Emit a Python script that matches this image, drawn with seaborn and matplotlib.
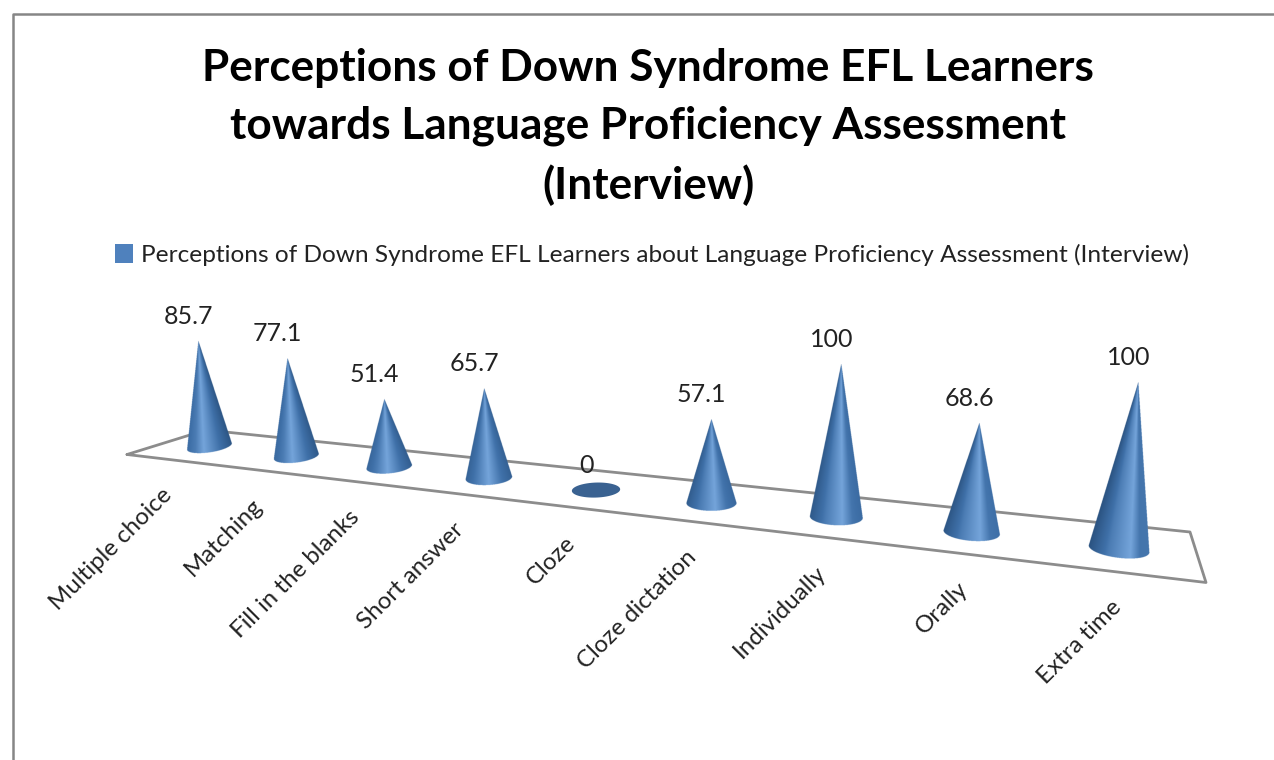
import numpy as np
import pandas as pd
import matplotlib
matplotlib.use("Agg")
import matplotlib.pyplot as plt
from matplotlib.patches import Patch
import seaborn as sns

# --- DATA ---
categories = ["Multiple choice", "Matching", "Fill in the blanks", "Short answer", "Cloze",
              "Cloze dictation", "Individually", "Orally", "Extra time"]
values = [85.7, 77.1, 51.4, 65.7, 0, 57.1, 100, 68.6, 100]
value_labels = ["85.7", "77.1", "51.4", "65.7", "0", "57.1", "100", "68.6", "100"]
title_text = "Perceptions of Down Syndrome EFL Learners\ntowards Language Proficiency Assessment\n(Interview)"
legend_text = "Perceptions of Down Syndrome EFL Learners about Language Proficiency Assessment (Interview)"

FONT = "Lato"
LINE_GREY = "#8c8c8c"
WIDTH, HEIGHT = 1274, 760

sns.set_theme(style="white")
plt.rcParams["font.family"] = [FONT, "DejaVu Sans"]

# dark -> mid -> light blue used across the cone surface
cone_cmap = sns.blend_palette(["#2a5280", "#3f70a8", "#74a4da"], as_cmap=True)


# --- PERSPECTIVE ---
# the old "3D" chart is a projective view: category index -> floor position + depth scale
def depth_scale(i):
    return 1 / (1 - 0.03263 * i)


def base_x(i):
    return (209.5 + 77.18 * i) * depth_scale(i)


def base_y(i):
    return 446.5 + 0.1127 * (base_x(i) - 209.5)


def draw_cone(ax, i, value):
    s = depth_scale(i)
    cx, cy = base_x(i), base_y(i)
    half_w = (42 + 3 * ((i - 4) / 4) ** 2) * s / 2
    half_h = 6 + 3 * i / 8
    tilt = 0.00028 * (cx - 711)

    if value == 0:
        t = np.linspace(0, 2 * np.pi, 80)
        ex = cx + half_w * np.cos(t)
        ey = cy + tilt * half_w * np.cos(t) + half_h * np.sin(t)
        ax.fill(ex, ey, color="#3a6291", lw=0, zorder=3)
        return cx, cy

    h = 1.235 * s * value
    ax_x = cx + 2.1e-4 * s * (cx - 711) * h
    ax_y = cy - h

    # supersampled image of the cone, shading follows the fan lines from the apex
    x0, x1 = int(cx - half_w - 3), int(cx + half_w + 3)
    if ax_x < x0:
        x0 = int(ax_x - 3)
    if ax_x > x1:
        x1 = int(ax_x + 3)
    y0, y1 = int(ax_y - 2), int(cy + half_h + abs(tilt) * half_w + 3)
    xs = np.linspace(x0, x1, (x1 - x0) * 4)
    ys = np.linspace(y0, y1, (y1 - y0) * 4)
    gx, gy = np.meshgrid(xs, ys)

    lx, ly = cx - half_w, cy - tilt * half_w
    rx, ry = cx + half_w, cy + tilt * half_w
    dy = np.maximum(gy - ax_y, 1e-6)
    slope = (gx - ax_x) / dy
    sl = (lx - ax_x) / (ly - ax_y)
    sr = (rx - ax_x) / (ry - ax_y)
    u = (slope - sl) / (sr - sl)

    inner = np.clip((gx - cx) / half_w, -1, 1)
    arc = cy + tilt * (gx - cx) + half_h * np.sqrt(1 - inner ** 2)
    mask = (u >= 0) & (u <= 1) & (gy > ax_y) & (gy <= arc)

    # highlight and edges drift with the position along the floor
    f = i / 8
    peak = 0.36 + 0.34 * f
    left_edge = 0.45 - 0.45 * f
    right_edge = 0.05 + 0.5 * f
    shade = np.interp(u, [0, peak * 0.5, peak, (1 + peak) / 2, 1],
                      [left_edge, 0.62, 1.0, 0.55, right_edge])
    rgba = cone_cmap(shade)
    rgba[..., 3] = mask.astype(float)
    ax.imshow(rgba, extent=(x0, x1, y1, y0), origin="upper", aspect="auto",
              interpolation="antialiased", interpolation_stage="rgba", zorder=3)
    return ax_x, ax_y


# --- FIGURE ---
df = pd.DataFrame({"category": categories, "value": values, "label": value_labels})

fig = plt.figure(figsize=(WIDTH / 100, HEIGHT / 100), dpi=100, facecolor="white")
ax = fig.add_axes([0, 0, 1, 1])

# chart frame (cropped on the right and at the bottom of the screenshot)
frame = pd.DataFrame({"x": [12.5, 12.5, 1274], "y": [760, 14, 14]})
sns.lineplot(data=frame, x="x", y="y", sort=False, estimator=None, color="#868686", lw=1.8, ax=ax)

# floor
floor = pd.DataFrame({"x": [127, 206, 1190, 1206, 127], "y": [454.5, 430, 532, 582.5, 454.5]})
sns.lineplot(data=floor, x="x", y="y", sort=False, estimator=None, color=LINE_GREY, lw=2, ax=ax, zorder=1)

for i, row in df.iterrows():
    tip_x, tip_y = draw_cone(ax, i, row["value"])
    ax.text(tip_x - 10, tip_y - 24.5, row["label"], ha="center", va="center", fontsize=18, color="#222222", zorder=5)

    # category label ends just under the front edge of the floor
    lx = base_x(i) - 41 + 0.044 * (base_x(i) - 209.5)
    ly = 455 + 0.1177 * (lx - 127) + 32
    ax.text(lx, ly, row["category"], rotation=45, rotation_mode="anchor", ha="right", va="center",
            fontsize=17.3, color="#222222", zorder=5)

ax.text(648, 127, title_text, ha="center", va="center", fontsize=31.8, fontweight="bold",
        color="black", linespacing=1.53)

handle = Patch(facecolor="#4f81bd", edgecolor="none", label=legend_text)
leg = ax.legend(handles=[handle], loc="center", bbox_to_anchor=(652 / WIDTH, 1 - 255 / HEIGHT), frameon=False,
                fontsize=17.6, handlelength=0.75, handleheight=0.8, handletextpad=0.3, labelcolor="#222222")

ax.set_xlim(0, WIDTH)
ax.set_ylim(HEIGHT, 0)
ax.set_xlabel("")
ax.set_ylabel("")
ax.axis("off")

fig.savefig("out.png", dpi=100, facecolor="white")
plt.close(fig)
